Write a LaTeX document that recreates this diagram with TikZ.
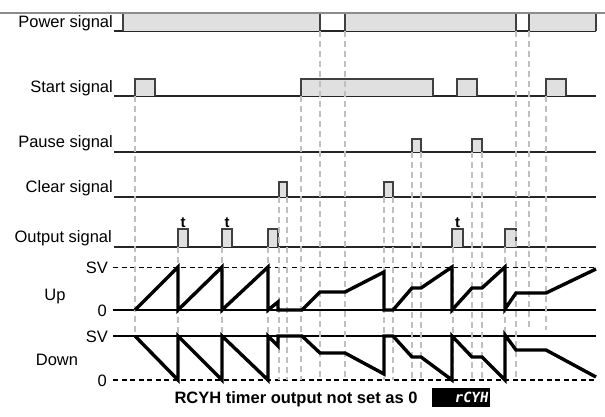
\documentclass[tikz,border=0pt]{standalone}
\usepackage{fontspec}
\setmainfont{Liberation Sans}
\newfontfamily\segfont{DejaVu Sans Mono}
\begin{document}
\begin{tikzpicture}[x=1pt,y=-1pt,
  baseln/.style={line width=1.1pt, draw=black!85},
  pulse/.style={fill=black!12, draw=black!75, line width=1.1pt},
  guide/.style={draw=black!25, line width=1.5pt, dash pattern=on 6pt off 4pt},
  blkdash/.style={draw=black, line width=1.4pt, dash pattern=on 5pt off 3.5pt},
  wave/.style={line width=3.4pt, draw=black},
  lbl/.style={font=\fontsize{16.5}{18}\selectfont, inner sep=0pt},
  tlbl/.style={font=\bfseries\fontsize{15}{16}\selectfont, inner sep=0pt, anchor=base}]
\useasboundingbox (0,0) rectangle (605,417);
\newcommand\sigpulse[4]{\filldraw[pulse] (#1,#3) -- (#1,#4) -- (#2,#4) -- (#2,#3);}
% baselines
\foreach \yy in {31,96,152,197,247} {\draw[baseln] (114,\yy) -- (596,\yy);}
\draw[line width=1.1pt] (113,310) -- (596,310);
\draw[line width=1.1pt] (113,336) -- (596,336);
\draw[blkdash] (113,267.5) -- (596,267.5);
\draw[blkdash] (113,380) -- (596,380);
% power
\sigpulse{123}{320}{31}{13.5}
\sigpulse{345}{516}{31}{13.5}
\sigpulse{529}{596}{31}{13.5}
\draw[draw=black!45, line width=1.6pt] (0,13) -- (605,13);
% start
\sigpulse{135}{155}{96}{79}
\sigpulse{301}{433}{96}{79}
\sigpulse{457}{477}{96}{79}
\sigpulse{546}{566}{96}{79}
% pause
\sigpulse{412}{421}{152}{139}
\sigpulse{472}{482}{152}{139}
% clear
\sigpulse{279}{287}{197}{182}
\sigpulse{384}{393}{197}{182}
% output
\sigpulse{178}{188}{247}{229}
\sigpulse{222}{232}{247}{229}
\sigpulse{268}{278}{247}{229}
\sigpulse{452}{463}{247}{229}
\sigpulse{505}{516}{247}{229}
% guides
\draw[guide] (135,96) -- (135,336);
\foreach \xx in {178,222,268,453,505} {\draw[guide] (\xx,247) -- (\xx,380);}
\foreach \xx in {279,287,384,393} {\draw[guide] (\xx,197) -- (\xx,380);}
\foreach \xx in {412,421,472,482} {\draw[guide] (\xx,152) -- (\xx,380);}
\draw[guide] (301,96) -- (301,380);
\foreach \xx in {320,345,516} {\draw[guide] (\xx,31) -- (\xx,380);}
\draw[guide] (529,31) -- (529,330);
\draw[guide] (546,96) -- (546,330);
% waveforms
\draw[wave] (135,310) -- (178,267) -- (178,310) -- (222,267) -- (222,310) -- (268,267) -- (268,310) -- (278,302) -- (278,310) -- (302,310) -- (320,292) -- (345,292) -- (384,272) -- (384,310) -- (393,310) -- (412,288) -- (421,288) -- (452,267) -- (452,310) -- (472,288) -- (482,288) -- (505,267) -- (505,309) -- (516,293) -- (546,293) -- (596,269);
\draw[wave] (135,336) -- (178,380) -- (178,336) -- (222,380) -- (222,336) -- (268,380) -- (268,336) -- (278,346) -- (278,336) -- (302,336) -- (320,353) -- (345,353) -- (384,374) -- (384,336) -- (393,336) -- (412,357) -- (421,357) -- (452,380) -- (452,336) -- (472,357) -- (482,357) -- (505,380) -- (505,335) -- (516,350) -- (546,350) -- (596,377);
% labels
\node[lbl, anchor=base east] (lpow) at (113,28) {Power signal};
\node[lbl, anchor=base east] (lsta) at (113,93) {Start signal};
\node[lbl, anchor=base east] (lpau) at (113,147) {Pause signal};
\node[lbl, anchor=base east] (lclr) at (113,193) {Clear signal};
\node[lbl, anchor=base east] (lout) at (112,242) {Output signal};
\node[lbl, anchor=east] (sv1) at (108,268) {SV};
\node[lbl, anchor=east] (z1) at (107,310.5) {0};
\node[lbl, anchor=base] (lup) at (55,300) {Up};
\node[lbl, anchor=east] (sv2) at (108,337) {SV};
\node[lbl, anchor=base] (ldn) at (57,365) {Down};
\node[lbl, anchor=east] (z2) at (107,380.5) {0};
\node[tlbl] (t1) at (183,227) {t};
\node[tlbl] (t2) at (227,227) {t};
\node[tlbl] (t3) at (457.5,227) {t};
\node[lbl, font=\bfseries\fontsize{16.5}{18}\selectfont, anchor=base] (cap) at (296,403) {RCYH timer output not set as 0};
\fill[black] (432,388) rectangle (490,407);
\node[inner sep=0pt, anchor=base east, text=white, font=\segfont\bfseries\fontsize{14}{14}\selectfont, xslant=0.15] (disp) at (488,402.5) {rCYH};
\end{tikzpicture}
\end{document}
